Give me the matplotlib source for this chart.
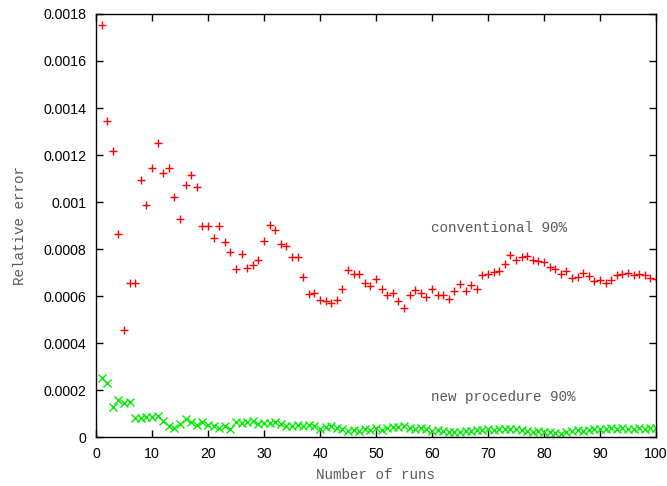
import matplotlib
matplotlib.use('Agg')
import matplotlib.pyplot as plt
import numpy as np
from matplotlib.ticker import FuncFormatter, MultipleLocator

runs = np.arange(1, 101)

# relative error, conventional method (red +)
conventional = [
    0.001753, 0.001345, 0.001218, 0.000865, 0.000455, 0.000657, 0.000657, 0.001094, 0.000986, 0.001143,
    0.001250, 0.001122, 0.001146, 0.001021, 0.000926, 0.001072, 0.001114, 0.001063, 0.000897, 0.000898,
    0.000845, 0.000899, 0.000828, 0.000786, 0.000714, 0.000777, 0.000719, 0.000732, 0.000752, 0.000834,
    0.000902, 0.000881, 0.000823, 0.000814, 0.000765, 0.000766, 0.000680, 0.000609, 0.000613, 0.000582,
    0.000579, 0.000571, 0.000582, 0.000631, 0.000712, 0.000695, 0.000695, 0.000657, 0.000644, 0.000672,
    0.000631, 0.000603, 0.000611, 0.000580, 0.000548, 0.000604, 0.000627, 0.000613, 0.000594, 0.000631,
    0.000606, 0.000606, 0.000587, 0.000623, 0.000652, 0.000623, 0.000647, 0.000631, 0.000691, 0.000695,
    0.000701, 0.000706, 0.000737, 0.000774, 0.000753, 0.000766, 0.000771, 0.000753, 0.000749, 0.000745,
    0.000723, 0.000714, 0.000695, 0.000705, 0.000675, 0.000682, 0.000699, 0.000685, 0.000665, 0.000668,
    0.000657, 0.000668, 0.000689, 0.000695, 0.000697, 0.000689, 0.000695, 0.000689, 0.000677, 0.000671,
]

# relative error, new procedure (green x)
new_proc = [
    0.000252, 0.000230, 0.000129, 0.000157, 0.000143, 0.000150, 0.000082, 0.000080, 0.000084, 0.000084,
    0.000089, 0.000069, 0.000047, 0.000038, 0.000055, 0.000077, 0.000064, 0.000051, 0.000064, 0.000050,
    0.000047, 0.000037, 0.000047, 0.000035, 0.000065, 0.000058, 0.000064, 0.000068, 0.000055, 0.000058,
    0.000061, 0.000064, 0.000055, 0.000047, 0.000048, 0.000050, 0.000047, 0.000050, 0.000045, 0.000035,
    0.000042, 0.000047, 0.000040, 0.000035, 0.000025, 0.000030, 0.000026, 0.000033, 0.000030, 0.000038,
    0.000030, 0.000040, 0.000042, 0.000044, 0.000048, 0.000040, 0.000036, 0.000038, 0.000032, 0.000025,
    0.000030, 0.000026, 0.000020, 0.000022, 0.000020, 0.000024, 0.000026, 0.000030, 0.000028, 0.000032,
    0.000030, 0.000034, 0.000036, 0.000035, 0.000034, 0.000028, 0.000024, 0.000022, 0.000025, 0.000020,
    0.000022, 0.000018, 0.000014, 0.000022, 0.000026, 0.000028, 0.000026, 0.000030, 0.000032, 0.000034,
    0.000036, 0.000038, 0.000036, 0.000038, 0.000036, 0.000035, 0.000037, 0.000035, 0.000038, 0.000040,
]

mono = 'Liberation Mono'
sans = 'Liberation Sans'
grey = '#5a5a5a'

fig = plt.figure(figsize=(6.67, 4.86), dpi=100)
ax = fig.add_axes([0.1439, 0.1008, 0.8396, 0.8704])

ax.plot(runs, conventional, linestyle='none', marker='+', color='#ff0000',
        markersize=6, markeredgewidth=1.0)
ax.plot(runs, new_proc, linestyle='none', marker='x', color='#00ee00',
        markersize=5.5, markeredgewidth=1.0)

ax.text(59.8, 0.000889, 'conventional 90%', family=mono, fontsize=10.3,
        color=grey, va='center', ha='left')
ax.text(59.8, 0.00017, 'new procedure 90%', family=mono, fontsize=10.3,
        color=grey, va='center', ha='left')

ax.set_xlim(0, 100)
ax.set_ylim(0, 0.0018)
ax.xaxis.set_major_locator(MultipleLocator(10))
ax.yaxis.set_major_locator(MultipleLocator(0.0002))
ax.yaxis.set_major_formatter(FuncFormatter(lambda v, p: '%g' % round(v, 6)))

ax.tick_params(direction='in', length=5, width=1, top=True, right=True,
               labelsize=10.2, pad=7)
for lab in ax.get_xticklabels() + ax.get_yticklabels():
    lab.set_family(sans)

for s in ax.spines.values():
    s.set_linewidth(1.0)

ax.set_xlabel('Number of runs', family=mono, fontsize=10.3, color=grey, labelpad=5)
ax.set_ylabel('Relative error', family=mono, fontsize=10.3, color=grey, labelpad=12)

fig.savefig('out.png', dpi=100)
